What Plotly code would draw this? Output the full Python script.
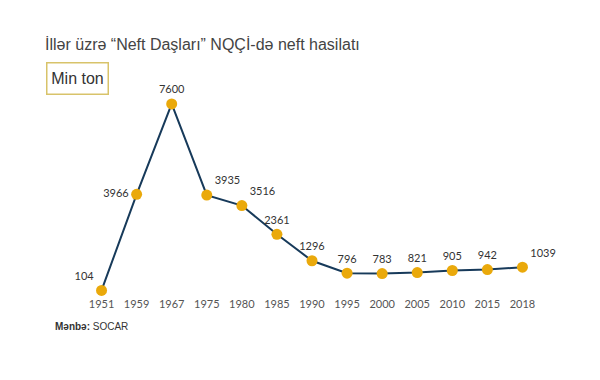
import plotly.graph_objects as go

years = ["1951", "1959", "1967", "1975", "1980", "1985", "1990", "1995", "2000", "2005", "2010", "2015", "2018"]
production = [104, 3966, 7600, 3935, 3516, 2361, 1296, 796, 783, 821, 905, 942, 1039]
label_positions = ["top left", "middle left", "top center", "top right", "top right", "top center",
                   "top center", "top center", "top center", "top center", "top center", "top center", "top right"]

fig = go.Figure()
fig.add_trace(go.Scatter(
    x=years, y=production,
    mode="lines+markers+text",
    line=dict(color="#173a5a", width=2),
    marker=dict(color="#eaa90b", size=11),
    text=[str(v) for v in production],
    textposition=label_positions,
    textfont=dict(family="Lato, Liberation Sans, sans-serif", size=11, color="#333333"),
    cliponaxis=False,
    hoverinfo="x+y",
))

fig.update_layout(
    width=600, height=380,
    margin=dict(l=84, r=60, t=94, b=87),
    paper_bgcolor="white", plot_bgcolor="white",
    showlegend=False,
    xaxis=dict(type="category", range=[-0.5, 12.5], showgrid=False, zeroline=False,
               showline=False, ticks="", ticklabelstandoff=3,
               tickfont=dict(family="Lato, Liberation Sans, sans-serif", size=11, color="#555555")),
    yaxis=dict(range=[0, 8000], visible=False, showgrid=False, zeroline=False),
    title=dict(text="İllər üzrə “Neft Daşları” NQÇİ-də neft hasilatı",
               x=45/600, xanchor="left", xref="container",
               y=1-44/380, yanchor="middle", yref="container",
               font=dict(family="Liberation Sans, Arial, sans-serif", size=16, color="#444444")),
    annotations=[
        dict(text="Min ton", xref="paper", yref="paper",
             x=(46-84)/456, xanchor="left", y=(292.6-78.5)/198.6, yanchor="middle",
             showarrow=False, bordercolor="#d8c36a", borderwidth=1.5, borderpad=4,
             width=52, height=22,
             font=dict(family="Liberation Sans, Arial, sans-serif", size=16, color="#333333")),
        dict(text="<b>Mənbə:</b> SOCAR", xref="paper", yref="paper",
             x=(53-84)/456, xanchor="left", y=(292.6-326)/198.6, yanchor="middle",
             showarrow=False,
             font=dict(family="Liberation Sans, Arial, sans-serif", size=10, color="#333333")),
    ],
)

fig.write_html("out.html", post_script="document.body.style.margin='0';",
               config={"displayModeBar": False})
